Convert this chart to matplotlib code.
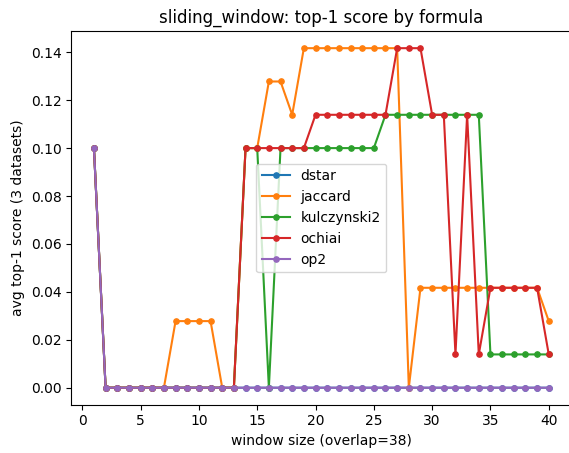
import matplotlib
matplotlib.use("Agg")
import matplotlib.pyplot as plt

windows = list(range(1, 41))

dstar = [0.1000, 0, 0, 0, 0, 0, 0, 0, 0, 0,
         0, 0, 0, 0, 0, 0, 0, 0, 0, 0,
         0, 0, 0, 0, 0, 0, 0, 0, 0, 0,
         0, 0, 0, 0, 0, 0, 0, 0, 0, 0]
jaccard = [0.1000, 0, 0, 0, 0, 0, 0, 0.0278, 0.0278, 0.0278,
           0.0278, 0, 0, 0.1000, 0.1000, 0.1278, 0.1278, 0.1139, 0.1417, 0.1417,
           0.1417, 0.1417, 0.1417, 0.1417, 0.1417, 0.1417, 0.1417, 0, 0.0417, 0.0417,
           0.0417, 0.0417, 0.0417, 0.0417, 0.0417, 0.0417, 0.0417, 0.0417, 0.0417, 0.0278]
kulczynski2 = [0.1000, 0, 0, 0, 0, 0, 0, 0, 0, 0,
               0, 0, 0, 0.1000, 0.1000, 0, 0.1000, 0.1000, 0.1000, 0.1000,
               0.1000, 0.1000, 0.1000, 0.1000, 0.1000, 0.1139, 0.1139, 0.1139, 0.1139, 0.1139,
               0.1139, 0.1139, 0.1139, 0.1139, 0.0139, 0.0139, 0.0139, 0.0139, 0.0139, 0.0139]
ochiai = [0.1000, 0, 0, 0, 0, 0, 0, 0, 0, 0,
          0, 0, 0, 0.1000, 0.1000, 0.1000, 0.1000, 0.1000, 0.1000, 0.1139,
          0.1139, 0.1139, 0.1139, 0.1139, 0.1139, 0.1139, 0.1417, 0.1417, 0.1417, 0.1139,
          0.1139, 0.0139, 0.1139, 0.0139, 0.0417, 0.0417, 0.0417, 0.0417, 0.0417, 0.0139]
op2 = [0.1000, 0, 0, 0, 0, 0, 0, 0, 0, 0,
       0, 0, 0, 0, 0, 0, 0, 0, 0, 0,
       0, 0, 0, 0, 0, 0, 0, 0, 0, 0,
       0, 0, 0, 0, 0, 0, 0, 0, 0, 0]

series = {
    "dstar": dstar,
    "jaccard": jaccard,
    "kulczynski2": kulczynski2,
    "ochiai": ochiai,
    "op2": op2,
}

W, H = 569, 453
fig = plt.figure(figsize=(W / 100, H / 100), dpi=100)
# axes box in pixels: left 71, top 31, bottom 405; the right edge runs past the canvas
ax = fig.add_axes([71.2 / W, 1 - 404.7 / H, 500.3 / W, 373.5 / H])
ax.spines["right"].set_visible(False)
for name, vals in series.items():
    ax.plot(windows, vals, marker="o", markersize=3.8, label=name)

ax.set_title("sliding_window: top-1 score by formula")
ax.set_xlabel("window size (overlap=38)")
ax.set_ylabel("avg top-1 score (3 datasets)")
ax.legend(loc="center")
fig.savefig("out.png", dpi=100)
